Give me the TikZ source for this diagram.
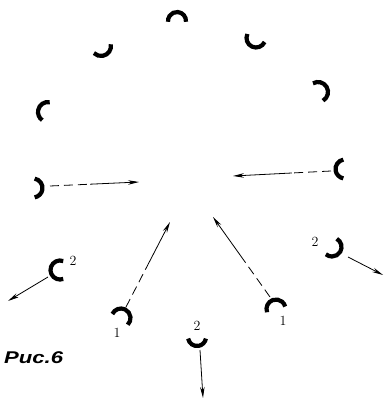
\documentclass[tikz,border=0pt]{standalone}
\usepackage{fontspec}
\newfontfamily\capfont{Liberation Sans}
\usetikzlibrary{arrows.meta,calc}
\tikzset{
  arcline/.style={line width=4.2pt},
  dashpart/.style={line width=0.8pt, dash pattern=on 9pt off 5pt},
  arrowpart/.style={line width=0.8pt, -{Stealth[length=11pt,width=4.5pt]}},
  numlabel/.style={font=\fontsize{14}{14}\selectfont, inner sep=0pt},
}
\newcommand\halfring[4]{\draw[arcline] ($(#1)+(#2:#4)$) arc[start angle=#2, end angle=#3, radius=#4];}
\begin{document}
\begin{tikzpicture}[x=1pt,y=-1pt]
\useasboundingbox (0,0) rectangle (385,398);
% centres of the half rings
\coordinate (top) at (177,21);
\coordinate (ul) at (101,46);
\coordinate (ur) at (256,38);
\coordinate (rt) at (318,92);
\coordinate (lf) at (48,112);
\coordinate (lm) at (33,188);
\coordinate (rm) at (345,169);
\coordinate (cl) at (60,270);
\coordinate (b1l) at (121,318);
\coordinate (bm) at (197,337);
\coordinate (b1r) at (276,309);
\coordinate (r2) at (332,247);
\halfring{top}{5}{-185}{9}
\halfring{ul}{-10}{135}{10}
\halfring{ur}{-155}{-335}{9.5}
\halfring{rt}{-120}{60}{10}
\halfring{lf}{-80}{-235}{10}
\halfring{lm}{-80}{80}{9.5}
\halfring{rm}{-100}{-260}{9.5}
\halfring{cl}{-70}{-290}{9.5}
\halfring{b1l}{-155}{45}{9.5}
\halfring{bm}{-190}{-350}{9}
\halfring{b1r}{-200}{-15}{9.5}
\halfring{r2}{-60}{130}{9.5}
% labels
\node[numlabel] (l2a) at (73,261) {2};
\node[numlabel] (l1a) at (117,333) {1};
\node[numlabel] (l2b) at (197,326) {2};
\node[numlabel] (l1b) at (283,321) {1};
\node[numlabel] (l2c) at (315,242) {2};
\node[anchor=base west, inner sep=0pt, font=\capfont\itshape\bfseries\fontsize{17}{17}\selectfont] (cap) at (4,363) {\scalebox{1.3}[1]{Рис.6}};
% arrow end points
\coordinate (a1s) at (50,186); \coordinate (a1e) at (139,182);
\coordinate (a2s) at (331,171); \coordinate (a2e) at (233,176);
\coordinate (a3s) at (48,277); \coordinate (a3e) at (8,301);
\coordinate (a4s) at (126,307); \coordinate (a4e) at (170,222);
\coordinate (a5s) at (200,350); \coordinate (a5e) at (203,398);
\coordinate (a6s) at (270,297); \coordinate (a6e) at (213,217);
\coordinate (a7s) at (348,257); \coordinate (a7e) at (383,275);
% inward arrows: dashed then solid
\draw[dashpart] (a1s) -- ($(a1s)!0.45!(a1e)$);
\draw[arrowpart] ($(a1s)!0.45!(a1e)$) -- (a1e);
\draw[dashpart] (a2s) -- ($(a2s)!0.4!(a2e)$);
\draw[arrowpart] ($(a2s)!0.4!(a2e)$) -- (a2e);
\draw[dashpart] (a4s) -- ($(a4s)!0.5!(a4e)$);
\draw[arrowpart] ($(a4s)!0.5!(a4e)$) -- (a4e);
\draw[dashpart] (a6s) -- ($(a6s)!0.5!(a6e)$);
\draw[arrowpart] ($(a6s)!0.5!(a6e)$) -- (a6e);
% outward arrows
\draw[arrowpart] (a3s) -- (a3e);
\draw[arrowpart] (a5s) -- (a5e);
\draw[arrowpart] (a7s) -- (a7e);
\end{tikzpicture}
\end{document}
